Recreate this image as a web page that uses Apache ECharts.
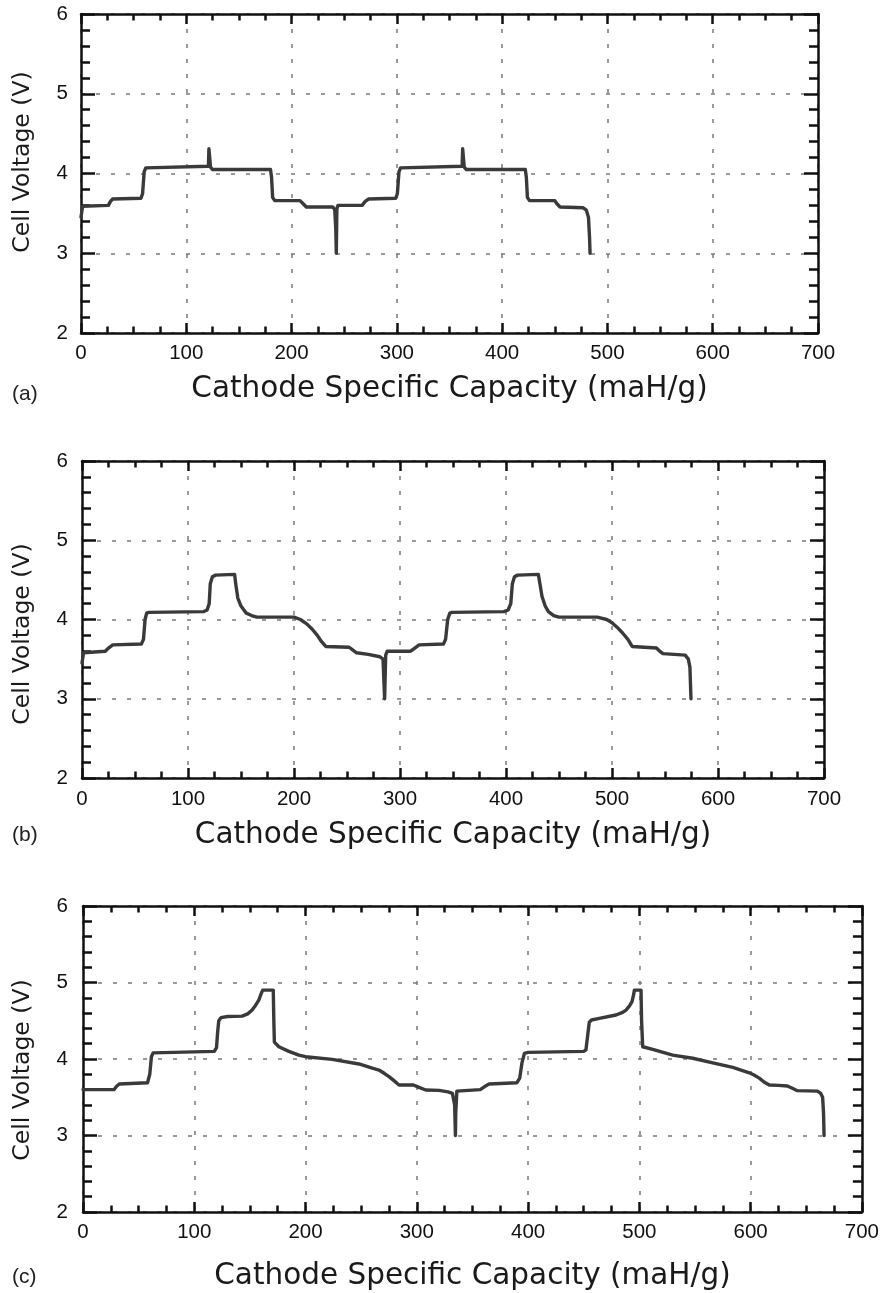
<!DOCTYPE html>
<html>
<head>
<meta charset="utf-8">
<script src="https://cdn.jsdelivr.net/npm/echarts@6/dist/echarts.min.js"></script>
<style>
html,body{margin:0;padding:0;background:#fff;}
#chart{width:882px;height:1293px;}
</style>
</head>
<body>
<div id="chart"></div>
<script>
// ---- data ----
const xTicks = [0, 100, 200, 300, 400, 500, 600, 700];
const yTicks = [2, 3, 4, 5, 6];
const xTitle = 'Cathode Specific Capacity (maH/g)';
const yTitle = 'Cell Voltage (V)';
const panelLabels = ['(a)', '(b)', '(c)'];

// Panel (a)
const capA = [0, 1.5, 26, 28, 30, 57, 58.5, 60, 61.5, 63, 121, 121.5, 122.5, 123, 125, 180, 181, 182, 184, 208, 211, 214, 239, 241, 242, 242.5,
  243, 244, 267, 270, 273, 299, 300.5, 302, 303.5, 305, 362, 362.5, 363.5, 364, 366, 422, 423, 424, 426, 450, 452, 455, 477, 480, 482, 483, 483.5];
const voltA = [3.45, 3.59, 3.6, 3.65, 3.68, 3.69, 3.75, 4.02, 4.07, 4.08, 4.09, 4.31, 4.31, 4.08, 4.05, 4.05, 3.95, 3.7, 3.66, 3.66, 3.62, 3.58, 3.58, 3.55, 3.3, 3.0,
  3.55, 3.6, 3.6, 3.65, 3.68, 3.69, 3.75, 4.02, 4.07, 4.08, 4.09, 4.31, 4.31, 4.08, 4.05, 4.05, 3.95, 3.7, 3.66, 3.66, 3.62, 3.58, 3.57, 3.54, 3.45, 3.2, 3.0];

// Panel (b)
const capB = [0, 1.5, 22, 25, 29, 56, 58, 59.5, 61, 63, 115, 118, 120, 121, 123, 126, 144, 145, 147, 150, 155, 160, 165, 200, 206, 212, 217, 222, 226, 230, 252, 255, 259, 270, 281, 284, 285.5,
  286, 286.5, 288, 310, 314, 318, 341, 343, 345, 347, 349, 398, 402, 404.5, 406, 408, 411, 430.5, 432, 434, 437, 440, 445, 450, 486, 495, 500, 505, 510, 515, 519, 542, 545, 548, 569, 572, 573.5, 574.5];
const voltB = [3.45, 3.58, 3.6, 3.64, 3.68, 3.69, 3.75, 4.0, 4.08, 4.09, 4.1, 4.12, 4.2, 4.45, 4.54, 4.56, 4.57, 4.45, 4.27, 4.17, 4.08, 4.05, 4.03, 4.03, 4.0, 3.945, 3.88, 3.8, 3.72, 3.66, 3.65, 3.62, 3.58, 3.56, 3.53, 3.5, 3.0,
  3.0, 3.55, 3.6, 3.6, 3.64, 3.68, 3.69, 3.75, 4.0, 4.08, 4.09, 4.1, 4.12, 4.2, 4.45, 4.54, 4.56, 4.57, 4.45, 4.29, 4.17, 4.1, 4.05, 4.03, 4.03, 4.0, 3.96, 3.9, 3.83, 3.75, 3.66, 3.64, 3.6, 3.57, 3.55, 3.5, 3.4, 3.0];

// Panel (c)
const capC = [0, 28, 30, 32.6, 58, 60, 61.5, 63, 118, 120, 121, 122, 124, 130, 143, 148, 152, 155, 158, 160, 161.5, 171, 171.5, 172, 176, 185, 194, 200, 224, 248, 260, 266, 271, 275, 280, 284, 297, 302, 308, 320, 328, 332, 334, 334.7,
  335, 336, 337, 357, 361, 365, 390, 392.5, 394.5, 396.7, 400, 450, 452, 453.5, 455, 457, 464, 479, 485, 488, 491, 493.4, 495, 495.5, 501.5, 502, 503, 512, 530, 548, 566, 584, 598.8, 603, 607.8, 612, 616.8, 625, 633, 637, 642, 660, 663, 664.7, 665.5, 666];
const voltC = [3.6, 3.6, 3.64, 3.673, 3.69, 3.8, 4.03, 4.08, 4.1, 4.15, 4.35, 4.5, 4.54, 4.555, 4.56, 4.59, 4.64, 4.7, 4.77, 4.85, 4.9, 4.9, 4.5, 4.22, 4.16, 4.1, 4.05, 4.03, 3.995, 3.935, 3.88, 3.856, 3.81, 3.77, 3.71, 3.66, 3.66, 3.63, 3.595, 3.59, 3.57, 3.55, 3.4, 3.0,
  3.3, 3.58, 3.595, 3.6, 3.64, 3.673, 3.69, 3.75, 3.95, 4.074, 4.087, 4.1, 4.12, 4.3, 4.48, 4.51, 4.53, 4.575, 4.61, 4.64, 4.69, 4.75, 4.85, 4.9, 4.9, 4.5, 4.16, 4.126, 4.05, 4.01, 3.95, 3.89, 3.82, 3.79, 3.75, 3.7, 3.66, 3.655, 3.647, 3.62, 3.586, 3.58, 3.55, 3.5, 3.3, 3.0];

const caps = [capA, capB, capC];
const volts = [voltA, voltB, voltC];

// ---- layout ----
const grids = [
  {left: 81, top: 14, width: 737, height: 319},
  {left: 82, top: 461, width: 742, height: 317},
  {left: 83, top: 906, width: 781, height: 306}
];
const xNameGap = [41, 42, 49];
const xLabelMargin = [9.5, 11, 9.5];
const yLabelMargin = [13, 14, 15];
const yNameGap = [46, 47, 48];
const yNamePad = [[0, 0, 0, 23], [0, 29, 0, 0], [0, 22, 0, 0]];
const labelY = [396, 836.5, 1278.5];

const AX = '#111';
const lineW = 2.5;
const gridStyle = {color: '#7a7a7a', width: 1.5, type: [4, 11]};
const tickFont = {fontFamily: '"Liberation Sans", Arial, sans-serif', fontSize: 20.5, color: '#111'};

const xAxes = [], yAxes = [], series = [], graphics = [];
grids.forEach((g, i) => {
  const xBase = {
    gridIndex: i, type: 'value', min: xTicks[0], max: xTicks[xTicks.length - 1], interval: xTicks[1] - xTicks[0],
    axisLine: {show: true, onZero: false, lineStyle: {color: AX, width: lineW}},
    axisTick: {show: true, inside: true, length: 10, lineStyle: {color: AX, width: lineW}},
    minorTick: {show: true, splitNumber: 4, length: 6.5, lineStyle: {color: AX, width: lineW}}
  };
  xAxes.push(Object.assign({}, xBase, {
    position: 'bottom',
    name: xTitle, nameLocation: 'middle', nameGap: xNameGap[i],
    nameTextStyle: {fontFamily: 'DejaVu Sans', fontSize: 29.5, color: '#1a1a1a'},
    axisLabel: Object.assign({show: true, margin: xLabelMargin[i]}, tickFont),
    splitLine: {show: true, lineStyle: gridStyle}
  }));
  xAxes.push(Object.assign({}, xBase, {
    position: 'top', axisLabel: {show: false}, splitLine: {show: false}
  }));
  const yBase = {
    gridIndex: i, type: 'value', min: yTicks[0], max: yTicks[yTicks.length - 1], interval: yTicks[1] - yTicks[0],
    axisLine: {show: true, onZero: false, lineStyle: {color: AX, width: lineW}},
    axisTick: {show: true, inside: true, length: 14, lineStyle: {color: AX, width: lineW}},
    minorTick: {show: true, splitNumber: 5, length: 9, lineStyle: {color: AX, width: lineW}}
  };
  yAxes.push(Object.assign({}, yBase, {
    position: 'left',
    name: yTitle, nameLocation: 'middle', nameGap: yNameGap[i], nameRotate: 90,
    nameTextStyle: {fontFamily: 'DejaVu Sans', fontSize: 23.5, color: '#1a1a1a', padding: yNamePad[i]},
    axisLabel: Object.assign({show: true, margin: yLabelMargin[i]}, tickFont),
    splitLine: {show: true, lineStyle: gridStyle}
  }));
  yAxes.push(Object.assign({}, yBase, {
    position: 'right', axisLabel: {show: false}, splitLine: {show: false}
  }));
  series.push({
    type: 'line', xAxisIndex: i * 2, yAxisIndex: i * 2,
    data: caps[i].map((c, k) => [c, volts[i][k]]),
    showSymbol: false, symbol: 'none', smooth: false,
    lineStyle: {color: '#3a3a3a', width: 3.4, join: 'round', cap: 'round'},
    z: 5, silent: true
  });
  graphics.push({
    type: 'text', left: 12, top: labelY[i] - 12,
    style: {text: panelLabels[i], font: '21px "Liberation Sans", Arial, sans-serif', fill: '#222'}
  });
});

const chart = echarts.init(document.getElementById('chart'), null, {renderer: 'canvas'});
chart.setOption({
  animation: false,
  backgroundColor: '#fff',
  grid: grids.map(g => Object.assign({containLabel: false}, g)),
  xAxis: xAxes,
  yAxis: yAxes,
  series: series,
  graphic: graphics
});
</script>
</body>
</html>
